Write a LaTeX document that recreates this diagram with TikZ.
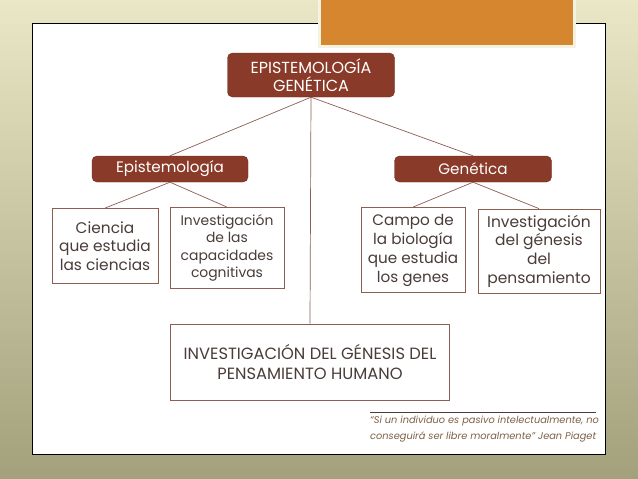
\documentclass[tikz,border=0pt]{standalone}
\usepackage{fontspec}
\setmainfont{Poppins}
\usetikzlibrary{positioning}
\definecolor{Brick}{HTML}{8A3A28}
\definecolor{Umber}{HTML}{8C5E52}
\definecolor{Ink}{HTML}{4A3C38}
\definecolor{Amber}{HTML}{D5862F}
\definecolor{Cream}{HTML}{EAE7C6}
\definecolor{Olive}{HTML}{A3A07C}
\definecolor{Sepia}{HTML}{7D5F45}
\tikzset{
  headbox/.style={draw=Brick!80!black, fill=Brick, rounded corners=5pt,
    text=white, align=center, inner sep=2pt},
  leafbox/.style={draw=Umber, line width=0.8pt, fill=white, text=Ink,
    align=center, inner sep=2pt},
  link/.style={draw=Umber, line width=0.7pt},
}
\begin{document}
\begin{tikzpicture}[x=1pt, y=-1pt,
  branch/.style={headbox, minimum height=26pt, font=\fontsize{15.2}{18}\selectfont},
]
  \useasboundingbox (0,0) rectangle (638,479);
  \shade[top color=Cream, bottom color=Olive] (0,0) rectangle (638,479);
  \draw[fill=white, line width=0.8pt] (32,23) rectangle (605,454);
  \draw[fill=Amber, draw=Cream!50!white, line width=3pt] (319,-3) rectangle (574,46);
  % concept map
  \node[headbox, minimum width=167pt, minimum height=44pt,
    font=\fontsize{16}{18}\selectfont] (root) at (311,75) {EPISTEMOLOGÍA\\GENÉTICA};
  \node[branch, minimum width=156pt] (epi) at (170,169) {Epistemología};
  \node[branch, minimum width=157pt] (gen) at (473,169) {Genética};
  \node[leafbox, minimum width=106pt, minimum height=75pt,
    font=\fontsize{15.4}{18.5}\selectfont] (ciencia) at (105,246) {Ciencia\\que estudia\\las ciencias};
  \node[leafbox, minimum width=114pt, minimum height=81pt,
    font=\fontsize{13.9}{17.5}\selectfont] (capac) at (227,248) {Investigación\\de las\\capacidades\\cognitivas};
  \node[leafbox, minimum width=104pt, minimum height=85pt,
    font=\fontsize{15.2}{19}\selectfont] (campo) at (413,250) {Campo de\\la biología\\que estudia\\los genes};
  \node[leafbox, minimum width=122pt, minimum height=84pt,
    font=\fontsize{15.5}{18.7}\selectfont] (genesis) at (539,251) {Investigación\\del génesis\\del\\pensamiento};
  \node[leafbox, minimum width=279pt, minimum height=76pt,
    font=\fontsize{16.3}{20}\selectfont] (humano) at (310,362) {INVESTIGACIÓN DEL GÉNESIS DEL\\PENSAMIENTO HUMANO};
  \draw[link] (root.south) -- (epi.north);
  \draw[link] (root.south) -- (gen.north);
  \draw[link] (root.south) -- (humano.north);
  \draw[link] (epi.south) -- (ciencia.north);
  \draw[link] (epi.south) -- (capac.north);
  \draw[link] (gen.south) -- (campo.north);
  \draw[link] (gen.south) -- (genesis.north);
  % quote
  \coordinate (qa) at (370,412);
  \coordinate (qb) at (596,412);
  \draw[Ink, line width=0.6pt] (qa) -- (qb);
  \node[anchor=north west, inner sep=0pt, align=left, text=Sepia,
    font=\itshape\fontsize{9.8}{16}\selectfont] (quote) at (370,416)
    {“Si un individuo es pasivo intelectualmente, no\\conseguirá ser libre moralmente” Jean Piaget};
\end{tikzpicture}
\end{document}
